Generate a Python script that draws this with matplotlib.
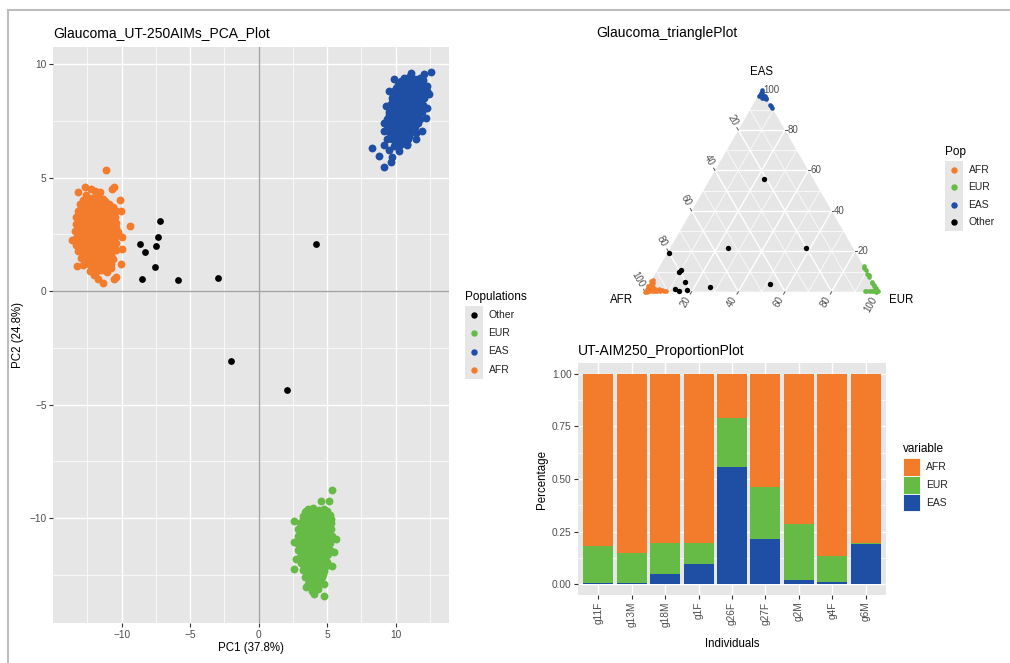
import matplotlib
matplotlib.use('Agg')
import matplotlib.pyplot as plt
from matplotlib.patches import Rectangle, Polygon
from matplotlib.lines import Line2D

plt.rcParams['font.family'] = ['Liberation Sans', 'DejaVu Sans']

W, H = 1010, 663
ORANGE = '#F37B2C'
GREEN = '#66BB47'
BLUE = '#1F4FA4'
PANEL = '#E6E6E6'
TXT = '#4D4D4D'

# ---- PCA data (PC1, PC2) ----
afr_pc = [
    (-12.6, 4.25), (-12.15, 4.1), (-11.75, 4.2), (-11.35, 4.05),
    (-13.05, 3.85), (-12.6, 3.95), (-12.25, 3.8), (-11.8, 3.9), (-11.4, 3.75), (-10.95, 3.85), (-10.6, 3.7),
    (-13.2, 3.55), (-12.85, 3.6), (-12.4, 3.5), (-12.0, 3.65), (-11.6, 3.5), (-11.2, 3.6), (-10.8, 3.45), (-10.45, 3.55),
    (-13.3, 3.25), (-12.9, 3.3), (-12.5, 3.2), (-12.1, 3.35), (-11.7, 3.2), (-11.3, 3.3), (-10.9, 3.15), (-10.5, 3.25),
    (-13.35, 2.95), (-12.95, 3.0), (-12.55, 2.9), (-12.1, 3.05), (-11.7, 2.9), (-11.3, 3.0), (-10.85, 2.9), (-10.4, 3.0),
    (-13.4, 2.65), (-13.0, 2.7), (-12.6, 2.6), (-12.2, 2.75), (-11.8, 2.6), (-11.4, 2.7), (-11.0, 2.6), (-10.6, 2.7), (-10.25, 2.6),
    (-13.3, 2.35), (-12.9, 2.4), (-12.5, 2.3), (-12.1, 2.45), (-11.7, 2.3), (-11.3, 2.4), (-10.9, 2.3), (-10.5, 2.4),
    (-13.3, 2.05), (-12.9, 2.1), (-12.5, 2.0), (-12.1, 2.15), (-11.7, 2.0), (-11.3, 2.1), (-10.9, 2.0), (-10.45, 2.1),
    (-13.2, 1.75), (-12.8, 1.8), (-12.4, 1.7), (-12.0, 1.85), (-11.6, 1.7), (-11.2, 1.8), (-10.8, 1.7), (-10.4, 1.8),
    (-13.0, 1.45), (-12.6, 1.5), (-12.2, 1.4), (-11.8, 1.55), (-11.4, 1.4), (-11.0, 1.5), (-10.6, 1.4),
    (-12.8, 1.15), (-12.4, 1.2), (-12.0, 1.1), (-11.6, 1.25), (-11.2, 1.1), (-10.8, 1.2),
    (-12.3, 0.9), (-11.9, 0.85), (-11.5, 0.95), (-11.1, 0.85),
    (-11.12, 5.33), (-10.68, 4.49), (-10.56, 4.57), (-12.70, 4.57), (-12.26, 4.49), (-11.95, 4.42),
    (-11.58, 4.39), (-13.19, 4.35), (-10.15, 4.02), (-10.07, 3.51), (-9.39, 2.85), (-13.6, 2.26),
    (-9.95, 2.37), (-9.95, 1.85), (-10.02, 1.19), (-13.23, 1.09), (-10.8, 1.04), (-10.44, 0.6),
    (-10.56, 0.53), (-11.34, 0.35), (-11.7, 0.55), (-12.0, 0.7),
]
afr_pc_dense = [
    (-12.8, 4.0), (-12.4, 4.05), (-12.0, 3.95), (-11.6, 4.0), (-11.2, 3.95),
    (-13.0, 3.7), (-12.6, 3.75), (-12.2, 3.65), (-11.8, 3.7), (-11.4, 3.65), (-11.0, 3.7), (-10.6, 3.4),
    (-13.1, 3.4), (-12.7, 3.45), (-12.3, 3.35), (-11.9, 3.4), (-11.5, 3.35), (-11.1, 3.45), (-10.7, 3.1),
    (-13.1, 3.1), (-12.7, 3.15), (-12.3, 3.05), (-11.9, 3.1), (-11.5, 3.05), (-11.1, 3.15), (-10.65, 3.05),
    (-13.2, 2.8), (-12.8, 2.85), (-12.4, 2.75), (-12.0, 2.8), (-11.6, 2.75), (-11.2, 2.85), (-10.8, 2.75), (-10.4, 2.8),
    (-13.1, 2.5), (-12.7, 2.55), (-12.3, 2.45), (-11.9, 2.5), (-11.5, 2.45), (-11.1, 2.55), (-10.7, 2.45), (-10.3, 2.5),
    (-13.1, 2.2), (-12.7, 2.25), (-12.3, 2.15), (-11.9, 2.2), (-11.5, 2.15), (-11.1, 2.25), (-10.7, 2.2),
    (-13.0, 1.9), (-12.6, 1.95), (-12.2, 1.85), (-11.8, 1.9), (-11.4, 1.85), (-11.0, 1.95), (-10.6, 1.9),
    (-12.8, 1.6), (-12.4, 1.65), (-12.0, 1.55), (-11.6, 1.6), (-11.2, 1.55), (-10.8, 1.6),
    (-12.6, 1.3), (-12.2, 1.35), (-11.8, 1.25), (-11.4, 1.3), (-11.0, 1.35),
    (-12.1, 1.0), (-11.7, 1.05), (-11.3, 0.95),
]
eas_pc = [
    (10.6, 9.4), (11.0, 9.45), (11.4, 9.35), (11.8, 9.4),
    (10.2, 9.1), (10.6, 9.15), (11.0, 9.05), (11.4, 9.1), (11.8, 9.15), (12.2, 9.05),
    (9.9, 8.8), (10.3, 8.85), (10.7, 8.75), (11.1, 8.8), (11.5, 8.85), (11.9, 8.75), (12.25, 8.8),
    (9.7, 8.5), (10.1, 8.55), (10.5, 8.45), (10.9, 8.5), (11.3, 8.55), (11.7, 8.45), (12.1, 8.5),
    (9.6, 8.2), (10.0, 8.25), (10.4, 8.15), (10.8, 8.2), (11.2, 8.25), (11.6, 8.15), (12.0, 8.2),
    (9.5, 7.9), (9.9, 7.95), (10.3, 7.85), (10.7, 7.9), (11.1, 7.95), (11.5, 7.85), (11.9, 7.9),
    (9.4, 7.6), (9.8, 7.65), (10.2, 7.55), (10.6, 7.6), (11.0, 7.65), (11.4, 7.55), (11.8, 7.6),
    (9.4, 7.3), (9.8, 7.35), (10.2, 7.25), (10.6, 7.3), (11.0, 7.35), (11.4, 7.25),
    (9.5, 7.0), (9.9, 7.05), (10.3, 6.95), (10.7, 7.0), (11.1, 7.05), (11.5, 6.95),
    (9.7, 6.7), (10.1, 6.75), (10.5, 6.65), (10.9, 6.7),
    (9.9, 6.4), (10.3, 6.45),
    (12.55, 9.68), (12.07, 9.56), (11.09, 9.63), (9.88, 9.34), (12.31, 9.04), (9.51, 8.82),
    (12.43, 8.68), (9.27, 8.16), (12.31, 8.09), (12.19, 7.65), (9.15, 7.43), (9.15, 7.06),
    (11.95, 7.06), (9.39, 6.70), (11.46, 6.70), (10.85, 6.43), (8.30, 6.29), (9.15, 6.43),
    (9.51, 6.22), (8.78, 5.96), (10.24, 6.18), (9.76, 5.93), (9.64, 5.67), (9.15, 5.48),
]
eas_pc_dense = [
    (10.4, 9.25), (10.8, 9.3), (11.2, 9.2), (11.6, 9.25), (12.0, 9.3),
    (10.0, 8.95), (10.4, 9.0), (10.8, 8.9), (11.2, 8.95), (11.6, 9.0), (12.0, 8.9),
    (9.8, 8.65), (10.2, 8.7), (10.6, 8.6), (11.0, 8.65), (11.4, 8.7), (11.8, 8.6), (12.15, 8.65),
    (9.7, 8.35), (10.1, 8.4), (10.5, 8.3), (10.9, 8.35), (11.3, 8.4), (11.7, 8.3),
    (9.6, 8.05), (10.0, 8.1), (10.4, 8.0), (10.8, 8.05), (11.2, 8.1), (11.6, 8.0),
    (9.5, 7.75), (9.9, 7.8), (10.3, 7.7), (10.7, 7.75), (11.1, 7.8), (11.5, 7.7),
    (9.6, 7.45), (10.0, 7.5), (10.4, 7.4), (10.8, 7.45), (11.2, 7.5), (11.6, 7.4),
    (9.6, 7.15), (10.0, 7.2), (10.4, 7.1), (10.8, 7.15), (11.2, 7.2),
    (9.8, 6.85), (10.2, 6.9), (10.6, 6.8), (11.0, 6.85),
    (10.0, 6.55), (10.4, 6.6), (10.8, 6.5),
]
eur_pc = [
    (3.6, -9.6), (4.0, -9.55), (4.4, -9.65), (4.8, -9.6),
    (3.2, -9.9), (3.6, -9.95), (4.0, -9.85), (4.4, -9.9), (4.8, -9.95), (5.2, -9.85),
    (3.0, -10.2), (3.4, -10.25), (3.8, -10.15), (4.2, -10.2), (4.6, -10.25), (5.0, -10.15), (5.3, -10.2),
    (2.9, -10.5), (3.3, -10.55), (3.7, -10.45), (4.1, -10.5), (4.5, -10.55), (4.9, -10.45), (5.3, -10.5),
    (2.9, -10.8), (3.3, -10.85), (3.7, -10.75), (4.1, -10.8), (4.5, -10.85), (4.9, -10.75), (5.35, -10.8),
    (2.8, -11.1), (3.2, -11.15), (3.6, -11.05), (4.0, -11.1), (4.4, -11.15), (4.8, -11.05), (5.2, -11.1),
    (2.9, -11.4), (3.3, -11.45), (3.7, -11.35), (4.1, -11.4), (4.5, -11.45), (4.9, -11.35), (5.2, -11.4),
    (3.0, -11.7), (3.4, -11.75), (3.8, -11.65), (4.2, -11.7), (4.6, -11.75), (5.0, -11.65),
    (3.1, -12.0), (3.5, -12.05), (3.9, -11.95), (4.3, -12.0), (4.7, -12.05), (5.0, -11.95),
    (3.2, -12.3), (3.6, -12.35), (4.0, -12.25), (4.4, -12.3), (4.8, -12.35),
    (3.4, -12.6), (3.8, -12.65), (4.2, -12.55), (4.6, -12.6),
    (3.6, -12.9), (4.0, -12.95), (4.4, -12.85), (4.8, -12.9),
    (3.9, -13.2), (4.3, -13.15),
    (5.38, -8.75), (4.53, -9.26), (5.13, -9.26), (3.43, -9.68), (2.58, -10.12), (5.62, -10.93),
    (2.58, -11.07), (2.58, -12.25), (3.43, -13.05), (4.04, -13.35), (4.77, -13.42), (5.38, -12.1),
    (5.26, -10.04), (2.7, -11.8), (5.5, -11.5),
]
eur_pc_dense = [
    (3.4, -9.75), (3.8, -9.7), (4.2, -9.8), (4.6, -9.75), (5.0, -9.7),
    (3.2, -10.05), (3.6, -10.0), (4.0, -10.1), (4.4, -10.05), (4.8, -10.0), (5.15, -10.1),
    (3.1, -10.35), (3.5, -10.3), (3.9, -10.4), (4.3, -10.35), (4.7, -10.3), (5.1, -10.4),
    (3.1, -10.65), (3.5, -10.6), (3.9, -10.7), (4.3, -10.65), (4.7, -10.6), (5.1, -10.7),
    (3.0, -10.95), (3.4, -10.9), (3.8, -11.0), (4.2, -10.95), (4.6, -10.9), (5.0, -11.0),
    (3.0, -11.25), (3.4, -11.2), (3.8, -11.3), (4.2, -11.25), (4.6, -11.2), (5.0, -11.3),
    (3.1, -11.55), (3.5, -11.5), (3.9, -11.6), (4.3, -11.55), (4.7, -11.5), (5.05, -11.6),
    (3.2, -11.85), (3.6, -11.8), (4.0, -11.9), (4.4, -11.85), (4.8, -11.8),
    (3.3, -12.15), (3.7, -12.1), (4.1, -12.2), (4.5, -12.15), (4.9, -12.1),
    (3.5, -12.45), (3.9, -12.4), (4.3, -12.5), (4.7, -12.45),
    (3.7, -12.75), (4.1, -12.7), (4.5, -12.8),
]
other_pc = [
    (-8.66, 2.09), (-8.32, 1.74), (-7.18, 3.08), (-7.35, 2.40), (-7.52, 1.99), (-7.54, 1.07),
    (-8.49, 0.53), (-5.89, 0.48), (-2.94, 0.58), (4.16, 2.06), (-2.04, -3.07), (2.07, -4.37),
]

# ---- ancestry proportions of the admixed individuals ----
individuals = ['g11F', 'g13M', 'g18M', 'g1F', 'g26F', 'g27F', 'g2M', 'g4F', 'g6M']
prop_afr = [0.818, 0.850, 0.805, 0.805, 0.210, 0.538, 0.712, 0.864, 0.801]
prop_eur = [0.174, 0.145, 0.146, 0.097, 0.233, 0.248, 0.266, 0.125, 0.006]
prop_eas = [0.008, 0.005, 0.049, 0.098, 0.557, 0.214, 0.022, 0.011, 0.193]

# other samples in the triangle plot (afr, eur, eas)
extra_other = [(0.202, 0.582, 0.216), (0.447, 0.517, 0.036), (0.792, 0.100, 0.108)]
# reference clusters in the triangle: AFR as (eur, eas), EUR as (afr, eas), EAS as (afr, eur)
afr_tern = [(0.0, 0.0), (0.01, 0.0), (0.02, 0.005), (0.0, 0.015), (0.01, 0.015), (0.0, 0.03),
            (0.005, 0.04), (0.0, 0.055), (0.015, 0.03), (0.025, 0.015), (0.03, 0.005), (0.04, 0.003),
            (0.035, 0.015), (0.02, 0.025), (0.01, 0.045), (0.045, 0.01), (0.05, 0.005), (0.06, 0.008),
            (0.07, 0.006), (0.08, 0.005), (0.09, 0.004), (0.065, 0.003), (0.055, 0.012), (0.005, 0.06)]
eur_tern = [(0.0, 0.125), (0.003, 0.115), (0.0, 0.108), (0.004, 0.09), (0.0, 0.082), (0.003, 0.074),
            (0.0, 0.05), (0.004, 0.042), (0.0, 0.035), (0.003, 0.027), (0.0, 0.018), (0.005, 0.01),
            (0.0, 0.003), (0.01, 0.004), (0.02, 0.002), (0.03, 0.004), (0.04, 0.002), (0.05, 0.003),
            (0.057, 0.002), (0.008, 0.0), (0.015, 0.008)]
eas_tern = [(0.0, 0.0), (0.005, 0.005), (0.012, 0.003), (0.02, 0.008), (0.027, 0.006), (0.015, 0.015),
            (0.008, 0.02), (0.02, 0.02), (0.0, 0.03), (0.005, 0.038), (0.003, 0.042), (0.012, 0.028),
            (0.0, 0.075), (0.0, 0.082), (0.002, 0.09)]

tern_ticks = [20, 40, 60, 80, 100]


def fx(x):
    return x / W


def fy(y):
    return 1 - y / H


def ax_rect(x0, y0, x1, y1):
    return [fx(x0), fy(y1), (x1 - x0) / W, (y1 - y0) / H]


def draw_legend(fig, x, y_title, title, labels, colors, step, boxes=False):
    fig.text(fx(x), fy(y_title), title, fontsize=8.5, va='center', ha='left')
    top = y_title + 9
    for i, (lab, col) in enumerate(zip(labels, colors)):
        y0 = top + i * step
        if boxes:
            fig.add_artist(Rectangle((fx(x), fy(y0 + step)), 17.3 / W, step / H,
                                     transform=fig.transFigure, facecolor=col,
                                     edgecolor='white', linewidth=0.6))
        else:
            fig.add_artist(Rectangle((fx(x), fy(y0 + step)), 18.3 / W, step / H,
                                     transform=fig.transFigure, facecolor=PANEL,
                                     edgecolor='none'))
            fig.add_artist(Line2D([fx(x + 9.2)], [fy(y0 + step / 2)], marker='o',
                                  markersize=3.6, color=col, linestyle='none',
                                  transform=fig.transFigure))
        fig.text(fx(x + 23.5), fy(y0 + step / 2), lab, fontsize=7.5, va='center',
                 ha='left', color='#222222')


def gg_axes(ax):
    ax.set_facecolor(PANEL)
    for s in ax.spines.values():
        s.set_visible(False)
    ax.tick_params(length=2.8, width=0.8, color='#333333', labelsize=7.3, labelcolor=TXT, pad=2)
    ax.grid(which='major', color='white', linewidth=1.0)
    ax.grid(which='minor', color='white', linewidth=0.5)
    ax.tick_params(which='minor', length=0)
    ax.set_axisbelow(True)


def pca_panel(fig):
    ax = fig.add_axes(ax_rect(53.3, 47, 449, 623))
    gg_axes(ax)
    ax.set_xlim(-14.99, 13.89)
    ax.set_ylim(-14.63, 10.76)
    ax.set_xticks([-10, -5, 0, 5, 10])
    ax.set_yticks([-10, -5, 0, 5, 10])
    ax.set_xticks([-12.5, -7.5, -2.5, 2.5, 7.5, 12.5], minor=True)
    ax.set_yticks([-12.5, -7.5, -2.5, 2.5, 7.5], minor=True)
    ax.axhline(0, color='#A3A3A3', linewidth=1.0, zorder=1)
    ax.axvline(0, color='#A3A3A3', linewidth=1.0, zorder=1)
    for pts, col in [(afr_pc + afr_pc_dense, ORANGE), (eas_pc + eas_pc_dense, BLUE),
                     (eur_pc + eur_pc_dense, GREEN)]:
        xs, ys = zip(*pts)
        ax.scatter(xs, ys, s=32, color=col, linewidths=0, zorder=3)
    xs, ys = zip(*other_pc)
    ax.scatter(xs, ys, s=24, color='black', linewidths=0, zorder=3)
    ax.set_xlabel('PC1 (37.8%)', fontsize=8.3, labelpad=2)
    ax.set_ylabel('PC2 (24.8%)', fontsize=8.3, labelpad=4)
    fig.text(fx(53.3), fy(33.5), 'Glaucoma_UT-250AIMs_PCA_Plot', fontsize=10, va='center')
    draw_legend(fig, 465, 297, 'Populations', ['Other', 'EUR', 'EAS', 'AFR'],
                ['black', GREEN, BLUE, ORANGE], 18.2)


def tern_xy(afr, eur, eas):
    return eur + 0.5 * eas, 0.8660 * eas


def triangle_panel(fig):
    ax = fig.add_axes(ax_rect(598.3, 58.4, 925.0, 326.7))
    ax.set_xlim(-0.2, 1.2)
    ax.set_ylim(-0.15, 1.0)
    ax.axis('off')
    corners = [tern_xy(1, 0, 0), tern_xy(0, 1, 0), tern_xy(0, 0, 1)]
    ax.add_patch(Polygon(corners, closed=True, facecolor=PANEL, edgecolor='none', zorder=0))
    for k in range(1, 10):
        v = k / 10
        lw = 1.0 if k % 2 == 0 else 0.5
        segs = [(tern_xy(1 - v, 0, v), tern_xy(0, 1 - v, v)),
                (tern_xy(v, 1 - v, 0), tern_xy(v, 0, 1 - v)),
                (tern_xy(1 - v, v, 0), tern_xy(0, v, 1 - v))]
        for a, b in segs:
            ax.plot([a[0], b[0]], [a[1], b[1]], color='white', linewidth=lw, zorder=1)
    tl, gap = 0.012, 0.016
    for t in tern_ticks:
        v = t / 100
        lab = str(t)
        # AFR ticks on the left edge
        px, py = tern_xy(v, 0, 1 - v)
        dx, dy = -0.5, 0.866
        ax.plot([px, px + tl * dx], [py, py + tl * dy], color='#555555', linewidth=0.7)
        ax.text(px + (tl + gap) * dx, py + (tl + gap) * dy, lab, rotation=-60,
                rotation_mode='anchor', ha='right', va='center', fontsize=7, color=TXT)
        # EUR ticks on the bottom edge
        px, py = tern_xy(1 - v, v, 0)
        dx, dy = -0.5, -0.866
        ax.plot([px, px + tl * dx], [py, py + tl * dy], color='#555555', linewidth=0.7)
        ax.text(px + (tl + gap) * dx, py + (tl + gap) * dy, lab, rotation=60,
                rotation_mode='anchor', ha='right', va='center', fontsize=7, color=TXT)
        # EAS ticks on the right edge
        px, py = tern_xy(0, 1 - v, v)
        ax.plot([px, px + tl * 0.6], [py, py], color='#555555', linewidth=0.7)
        ax.text(px + tl * 0.6 + 0.002, py, lab, ha='left', va='center', fontsize=7, color=TXT)
    pts = [tern_xy(1 - e - s, e, s) for e, s in afr_tern]
    ax.scatter(*zip(*pts), s=11, color=ORANGE, linewidths=0, zorder=3)
    pts = [tern_xy(a, 1 - a - s, s) for a, s in eur_tern]
    ax.scatter(*zip(*pts), s=11, color=GREEN, linewidths=0, zorder=3)
    pts = [tern_xy(a, e, 1 - a - e) for a, e in eas_tern]
    ax.scatter(*zip(*pts), s=11, color=BLUE, linewidths=0, zorder=3)
    others = list(zip(prop_afr, prop_eur, prop_eas)) + extra_other
    pts = [tern_xy(*p) for p in others]
    ax.scatter(*zip(*pts), s=15, color='black', linewidths=0, zorder=4)
    ax.text(0.5, 0.943, 'EAS', ha='center', va='center', fontsize=8.3)
    ax.text(-0.1, -0.036, 'AFR', ha='center', va='center', fontsize=8.3)
    ax.text(1.1, -0.036, 'EUR', ha='center', va='center', fontsize=8.3)
    fig.text(fx(596.7), fy(33.5), 'Glaucoma_trianglePlot', fontsize=10, va='center')
    draw_legend(fig, 945, 151.7, 'Pop', ['AFR', 'EUR', 'EAS', 'Other'],
                [ORANGE, GREEN, BLUE, 'black'], 17.65)


def proportion_panel(fig):
    ax = fig.add_axes(ax_rect(578.3, 363.3, 885.7, 595))
    gg_axes(ax)
    pos = list(range(len(individuals)))
    ax.set_xlim(-0.6, len(individuals) - 0.4)
    ax.set_ylim(-0.05, 1.05)
    ax.set_xticks(pos)
    ax.set_xticklabels(individuals, rotation=90, va='top')
    ax.set_yticks([0, 0.25, 0.5, 0.75, 1.0])
    ax.set_yticklabels(['0.00', '0.25', '0.50', '0.75', '1.00'])
    ax.set_yticks([0.125, 0.375, 0.625, 0.875], minor=True)
    bottom_eur = prop_eas
    bottom_afr = [a + b for a, b in zip(prop_eas, prop_eur)]
    ax.bar(pos, prop_eas, width=0.9, color=BLUE, zorder=2)
    ax.bar(pos, prop_eur, width=0.9, bottom=bottom_eur, color=GREEN, zorder=2)
    ax.bar(pos, prop_afr, width=0.9, bottom=bottom_afr, color=ORANGE, zorder=2)
    ax.set_ylabel('Percentage', fontsize=8.3, labelpad=3)
    ax.set_xlabel('Individuals', fontsize=8.3, labelpad=8)
    fig.text(fx(578.3), fy(350.7), 'UT-AIM250_ProportionPlot', fontsize=10, va='center')
    draw_legend(fig, 902.7, 449.3, 'variable', ['AFR', 'EUR', 'EAS'],
                [ORANGE, GREEN, BLUE], 17.7, boxes=True)


fig = plt.figure(figsize=(W / 100, H / 100), dpi=100)
fig.add_artist(Line2D([fx(8), fx(1010)], [fy(10), fy(10)], color='#BDBDBD',
                      linewidth=1.5, transform=fig.transFigure))
fig.add_artist(Line2D([fx(8), fx(8)], [fy(10), fy(663)], color='#BDBDBD',
                      linewidth=1.5, transform=fig.transFigure))
pca_panel(fig)
triangle_panel(fig)
proportion_panel(fig)
fig.savefig('out.png', dpi=100)
